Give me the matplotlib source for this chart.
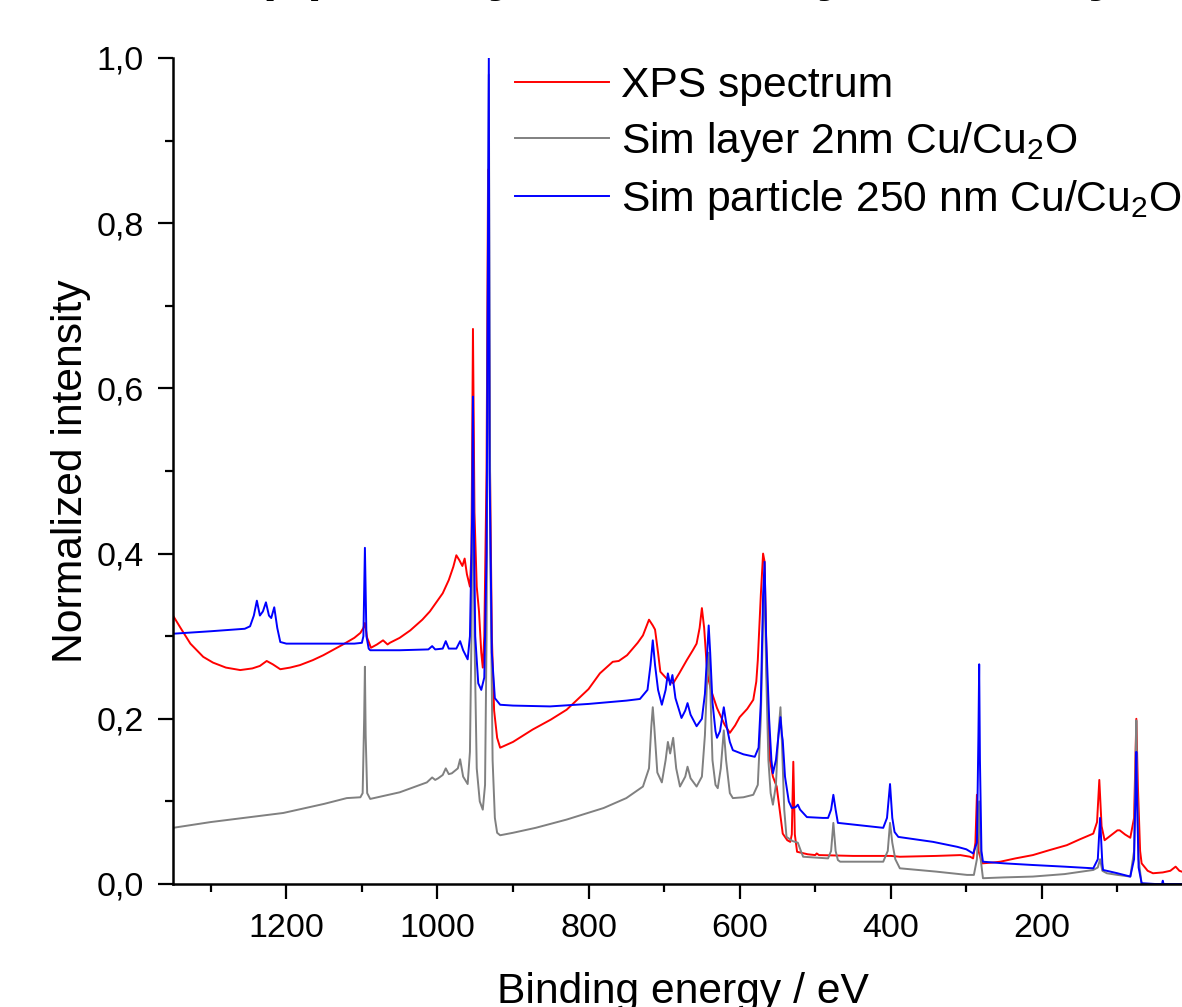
import matplotlib
matplotlib.use("Agg")
import matplotlib.pyplot as plt
from matplotlib.ticker import FixedLocator, FuncFormatter

plt.rcParams['font.family'] = ['Liberation Sans', 'DejaVu Sans']
plt.rcParams['mathtext.default'] = 'regular'

# XPS survey spectrum (red)
xps_energy = [1350, 1340, 1327, 1310, 1297, 1280, 1261, 1245, 1235, 1226, 1218, 1208, 1195, 1182,
              1165, 1151, 1125, 1110, 1102, 1098, 1096, 1093, 1088, 1080, 1072, 1066, 1063, 1050,
              1036, 1020, 1010, 993, 985, 979, 975, 971, 967, 964, 961, 957, 955, 953, 951, 948,
              945, 942, 940, 938, 935, 933, 931, 928, 925, 921, 917, 900, 874, 850, 829, 800, 785,
              768, 760, 749, 735, 728, 720, 715, 712, 708, 705, 697, 688, 680, 670, 662, 657, 653,
              650, 647, 644, 642, 638, 630, 620, 613, 606, 600, 590, 582, 578, 576, 572, 569, 567,
              564, 560, 556, 551, 547, 543, 537, 533, 531, 529, 527, 524, 510, 500, 498, 495, 450,
              400, 388, 340, 308, 295, 291, 288, 286, 284, 279, 265, 255, 235, 212, 190, 167, 150,
              132, 127, 124, 121, 117, 110, 100, 97, 90, 83, 78, 75, 73, 70, 68, 60, 53, 40, 30,
              23, 18, 15, 5, 0]
xps_int = [0.325, 0.31, 0.291, 0.275, 0.268, 0.262, 0.259, 0.261, 0.264, 0.270, 0.266, 0.260, 0.262, 0.265,
           0.271, 0.277, 0.290, 0.298, 0.304, 0.310, 0.316, 0.298, 0.286, 0.290, 0.295, 0.290, 0.292, 0.298,
           0.307, 0.320, 0.330, 0.352, 0.368, 0.384, 0.398, 0.392, 0.385, 0.394, 0.375, 0.36, 0.40, 0.672, 0.45, 0.36,
           0.33, 0.28, 0.262, 0.30, 0.50, 0.865, 0.55, 0.30, 0.21, 0.177, 0.165, 0.172, 0.187, 0.199, 0.211, 0.236, 0.255,
           0.269, 0.27, 0.277, 0.292, 0.301, 0.320, 0.313, 0.308, 0.28, 0.257, 0.249, 0.243, 0.255, 0.271, 0.283, 0.291, 0.31,
           0.334, 0.31, 0.27, 0.251, 0.235, 0.213, 0.193, 0.183, 0.192, 0.202, 0.212, 0.223, 0.245, 0.271, 0.35, 0.40, 0.39,
           0.25, 0.150, 0.13, 0.118, 0.09, 0.061, 0.053, 0.051, 0.06, 0.148, 0.06, 0.039, 0.036, 0.035, 0.037, 0.035, 0.034,
           0.034, 0.033, 0.034, 0.035, 0.033, 0.031, 0.05, 0.108, 0.04, 0.025, 0.026, 0.027, 0.031, 0.035, 0.041, 0.047, 0.054,
           0.061, 0.075, 0.126, 0.07, 0.053, 0.058, 0.065, 0.065, 0.06, 0.056, 0.08, 0.20, 0.12, 0.04, 0.025, 0.016, 0.013, 0.014, 0.016,
           0.021, 0.016, 0.015, 0.013, 0.012]

# simulated layer 2 nm Cu/Cu2O (grey)
layer_energy = [1350, 1300, 1204, 1150, 1120, 1102, 1099, 1097, 1096, 1095, 1093, 1089, 1050, 1014, 1007,
                1003, 999, 993, 989, 985, 981, 973, 970, 966, 960, 957, 955, 953, 951, 948, 944, 940,
                937, 935, 932, 930, 927, 924, 921, 917, 900, 870, 829, 780, 750, 728, 720, 717, 715,
                713, 709, 703, 698, 695, 692, 688, 684, 679, 672, 669, 665, 657, 650, 646, 643, 641,
                639, 636, 632, 629, 625, 621, 618, 613, 609, 595, 582, 576, 572, 569, 567, 565, 562,
                559, 556, 552, 549, 546, 544, 541, 538, 530, 523, 519, 516, 483, 479, 476, 473, 470,
                467, 410, 404, 401, 398, 394, 388, 340, 299, 290, 286, 283, 281, 278, 250, 212, 170,
                132, 126, 123, 120, 114, 100, 83, 78, 76, 75, 74, 72, 68, 0]
layer_int = [0.068, 0.075, 0.086, 0.097, 0.104, 0.105, 0.11, 0.20, 0.263, 0.18, 0.11, 0.103, 0.111, 0.123, 0.129,
             0.126, 0.128, 0.132, 0.140, 0.133, 0.134, 0.14, 0.151, 0.13, 0.121, 0.16, 0.30, 0.55, 0.30, 0.14, 0.10, 0.09,
             0.12, 0.30, 0.98, 0.40, 0.15, 0.08, 0.062, 0.059, 0.062, 0.068, 0.078, 0.092, 0.104, 0.118, 0.14, 0.19, 0.214,
             0.19, 0.135, 0.123, 0.15, 0.172, 0.158, 0.177, 0.14, 0.118, 0.13, 0.142, 0.128, 0.118, 0.13, 0.18, 0.25, 0.28,
             0.24, 0.15, 0.12, 0.116, 0.14, 0.186, 0.15, 0.11, 0.104, 0.105, 0.108, 0.12, 0.20, 0.32, 0.37, 0.26, 0.15,
             0.11, 0.096, 0.12, 0.18, 0.214, 0.17, 0.09, 0.057, 0.052, 0.05, 0.04, 0.033, 0.031, 0.04, 0.074, 0.04, 0.029,
             0.027, 0.027, 0.04, 0.074, 0.05, 0.03, 0.019, 0.015, 0.011, 0.011, 0.03, 0.10, 0.03, 0.007, 0.008, 0.009, 0.012,
             0.017, 0.02, 0.03, 0.016, 0.013, 0.011, 0.009, 0.04, 0.15, 0.198, 0.12, 0.03, 0.0, 0.0]

# simulated particle 250 nm Cu/Cu2O (blue)
particle_energy = [1350, 1300, 1255, 1248, 1243, 1239, 1235, 1231, 1227, 1223, 1220, 1216, 1212, 1208, 1200,
                   1150, 1110, 1100, 1098, 1096, 1094, 1091, 1089, 1050, 1012, 1007, 1003, 993, 989, 985,
                   975, 970, 966, 960, 957, 954, 953, 952, 950, 946, 942, 938, 935, 932, 931, 928, 924,
                   917, 900, 851, 800, 750, 732, 722, 718, 715, 712, 708, 703, 698, 695, 692, 689, 685,
                   677, 672, 669, 665, 657, 650, 646, 643, 641, 639, 636, 632, 630, 626, 621, 617, 613,
                   609, 595, 580, 575, 572, 569, 567, 565, 561, 558, 556, 552, 548, 546, 544, 543, 540,
                   535, 531, 526, 523, 520, 511, 490, 483, 479, 476, 473, 470, 450, 410, 405, 401, 398,
                   395, 390, 344, 312, 300, 291, 286, 284, 283, 282, 280, 278, 250, 212, 170, 132, 126,
                   123, 120, 119, 100, 83, 78, 76, 75, 74, 72, 68, 50, 41, 40, 39, 0]
particle_int = [0.303, 0.306, 0.309, 0.312, 0.325, 0.343, 0.325, 0.33, 0.341, 0.325, 0.322, 0.335, 0.31, 0.293, 0.291,
                0.291, 0.291, 0.292, 0.30, 0.407, 0.30, 0.285, 0.283, 0.283, 0.284, 0.288, 0.284, 0.285, 0.294, 0.285,
                0.285, 0.294, 0.283, 0.272, 0.30, 0.45, 0.59, 0.45, 0.30, 0.243, 0.235, 0.25, 0.40, 1.0, 0.50, 0.28, 0.225,
                0.217, 0.216, 0.215, 0.218, 0.222, 0.224, 0.235, 0.265, 0.295, 0.265, 0.235, 0.217, 0.235, 0.255, 0.241, 0.253, 0.225,
                0.201, 0.21, 0.219, 0.205, 0.191, 0.20, 0.23, 0.28, 0.313, 0.28, 0.22, 0.185, 0.177, 0.185, 0.214, 0.19, 0.172,
                0.162, 0.157, 0.154, 0.165, 0.22, 0.35, 0.39, 0.30, 0.20, 0.15, 0.134, 0.15, 0.185, 0.202, 0.18, 0.174, 0.13,
                0.10, 0.092, 0.093, 0.096, 0.09, 0.081, 0.080, 0.080, 0.09, 0.108, 0.09, 0.074, 0.072, 0.068, 0.08, 0.121, 0.08,
                0.063, 0.057, 0.051, 0.045, 0.042, 0.037, 0.05, 0.18, 0.266, 0.15, 0.04, 0.027, 0.025, 0.023, 0.021, 0.019, 0.03,
                0.08, 0.025, 0.017, 0.013, 0.009, 0.03, 0.12, 0.16, 0.10, 0.02, 0.001, 0.0, 0.0, 0.004, 0.0, 0.0]

x_major = [1200, 1000, 800, 600, 400, 200]
x_minor = [1300, 1100, 900, 700, 500, 300, 100]
y_major = [0.0, 0.2, 0.4, 0.6, 0.8, 1.0]
y_minor = [0.1, 0.3, 0.5, 0.7, 0.9]

W, H = 1182, 1007
fig = plt.figure(figsize=(W / 100, H / 100), dpi=100)
# axes runs a little past the right edge of the picture, like the cropped original
ax = fig.add_axes([173 / W, 1 - 884 / H, (1193 - 173) / W, (884 - 58) / H])

ax.plot(xps_energy, xps_int, color='#ff0000', lw=1.4, label='XPS spectrum')
ax.plot(layer_energy, layer_int, color='#808080', lw=1.4, label='Sim layer 2nm Cu/Cu$_2$O')
ax.plot(particle_energy, particle_int, color='#0000ff', lw=1.4, label='Sim particle 250 nm Cu/Cu$_2$O')

ax.set_xlim(1350, 0)
ax.set_ylim(0, 1.0)
ax.xaxis.set_major_locator(FixedLocator(x_major))
ax.xaxis.set_minor_locator(FixedLocator(x_minor))
ax.yaxis.set_major_locator(FixedLocator(y_major))
ax.yaxis.set_minor_locator(FixedLocator(y_minor))
ax.yaxis.set_major_formatter(FuncFormatter(lambda v, p: f'{v:.1f}'.replace('.', ',')))

for s in ['top', 'right']:
    ax.spines[s].set_visible(False)
for s in ['left', 'bottom']:
    ax.spines[s].set_linewidth(1.8)
ax.tick_params(which='major', length=11, width=1.6, pad=10, labelsize=24.5, direction='out')
ax.tick_params(which='minor', length=5.8, width=1.6, direction='out')

ax.set_xlabel('Binding energy / eV', fontsize=30.7, labelpad=20)
ax.set_ylabel('Normalized intensity', fontsize=30.7, labelpad=4)

ax.legend(loc='upper left', bbox_to_anchor=(515 / W, 1 - 66 / H), bbox_transform=fig.transFigure,
          frameon=False, fontsize=30.7, handlelength=2.2, handletextpad=0.28,
          labelspacing=0.33, borderpad=0, borderaxespad=0)

# title of the original figure, cut off at the top edge: only descenders show
fig.text(159 / W, 1 + 16 / H, 'Copper by XPS: layer or by SESSA model',
         fontsize=57.6, va='baseline', ha='left')

fig.savefig('out.png', dpi=100)
